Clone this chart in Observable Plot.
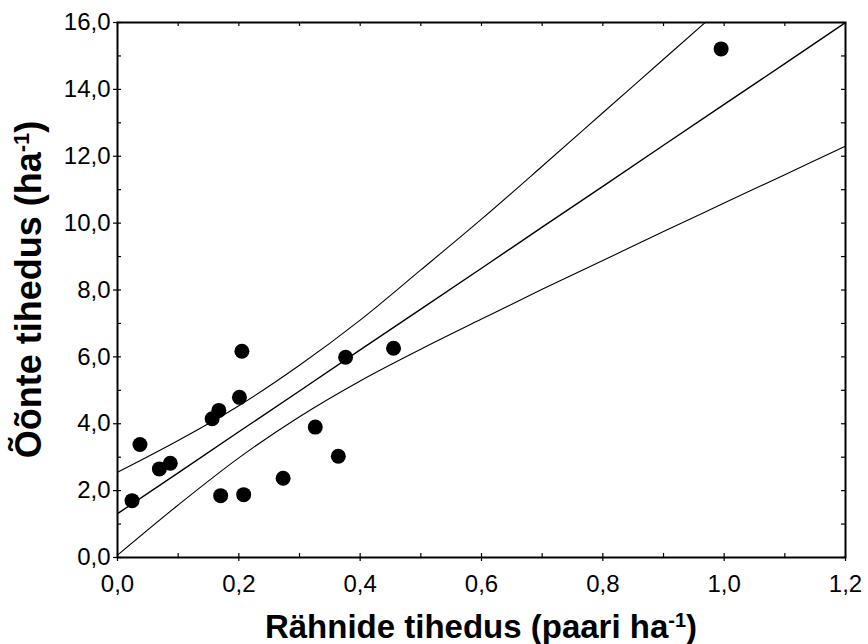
<!DOCTYPE html>
<html><head><meta charset="utf-8">
<script src="https://cdn.jsdelivr.net/npm/d3@7"></script>
<script src="https://cdn.jsdelivr.net/npm/@observablehq/plot@0.6"></script>
<style>body{margin:0;background:#fff}</style>
</head><body><div id="chart"></div>
<script>
// Observed points: woodpecker density (pairs/ha) vs. cavity density (per ha)
const pointX = [0.024, 0.037, 0.069, 0.087, 0.156, 0.167, 0.170, 0.201, 0.205, 0.208, 0.273, 0.326, 0.364, 0.376, 0.455, 0.995];
const pointY = [1.70, 3.38, 2.65, 2.82, 4.15, 4.40, 1.85, 4.79, 6.17, 1.88, 2.37, 3.90, 3.03, 5.99, 6.26, 15.21];

// Regression line and confidence band
const bandX  = [0, 0.1, 0.2, 0.3, 0.4, 0.5, 0.6, 0.7, 0.8, 0.9, 1.0, 1.1, 1.2];
const fitY   = [1.31, 2.53, 3.76, 4.98, 6.21, 7.43, 8.65, 9.88, 11.10, 12.33, 13.55, 14.77, 16.00];
const upperY = [2.55, 3.50, 4.54, 5.75, 7.10, 8.60, 10.12, 11.70, 13.30, 14.90, 16.50, 18.10, 19.70];
const lowerY = [0.07, 1.57, 2.98, 4.21, 5.28, 6.23, 7.13, 8.02, 8.88, 9.75, 10.60, 11.45, 12.30];

// Axes
const xTickLabels = [0, 0.2, 0.4, 0.6, 0.8, 1.0, 1.2];
const yTickLabels = [0, 2, 4, 6, 8, 10, 12, 14, 16];
const xMinorTicks = [0, 0.1, 0.2, 0.3, 0.4, 0.5, 0.6, 0.7, 0.8, 0.9, 1.0, 1.1, 1.2];
const yMinorTicks = [0, 1, 2, 3, 4, 5, 6, 7, 8, 9, 10, 11, 12, 13, 14, 15, 16];
const xTitle = ["Rähnide tihedus (paari ha", "-1", ")"];
const yTitle = ["Õõnte tihedus (ha", "-1", ")"];

const W = 868, H = 644;
const mL = 117, mR = 23, mT = 22, mB = 87;
const innerW = W - mL - mR, innerH = H - mT - mB;
const fmt = d => d.toFixed(1).replace(".", ",");

const points = pointX.map((x, i) => ({x, y: pointY[i]}));
const band = bandX.map((x, i) => ({x, fit: fitY[i], up: upperY[i], lo: lowerY[i]}));

const chart = Plot.plot({
  width: W, height: H,
  marginLeft: mL, marginRight: mR, marginTop: mT, marginBottom: mB,
  style: {fontFamily: "'Liberation Sans', Arial, sans-serif", fontSize: "24px", background: "#fff", color: "#000"},
  x: {domain: [0, 1.2], label: null},
  y: {domain: [0, 16], label: null},
  marks: [
    Plot.line(band, {x: "x", y: "up", stroke: "#000", strokeWidth: 1.1, curve: "catmull-rom", clip: true}),
    Plot.line(band, {x: "x", y: "lo", stroke: "#000", strokeWidth: 1.1, curve: "catmull-rom", clip: true}),
    Plot.line(band, {x: "x", y: "fit", stroke: "#000", strokeWidth: 1.4, clip: true}),
    Plot.dot(points, {x: "x", y: "y", r: 7.5, fill: "#000", stroke: "none"}),
    Plot.frame({stroke: "#000", strokeWidth: 2}),
    // inward minor ticks on all sides
    Plot.tickX(xMinorTicks, {x: d => d, insetTop: innerH - 4, stroke: "#000", strokeWidth: 1.2}),
    Plot.tickX(xMinorTicks, {x: d => d, insetBottom: innerH - 4, stroke: "#000", strokeWidth: 1.2}),
    Plot.tickY(yMinorTicks, {y: d => d, insetRight: innerW - 4, stroke: "#000", strokeWidth: 1.2}),
    Plot.tickY(yMinorTicks, {y: d => d, insetLeft: innerW - 4, stroke: "#000", strokeWidth: 1.2}),
    Plot.axisX(xTickLabels, {tickSize: 4, tickPadding: 13, tickFormat: fmt, fontSize: 24, strokeWidth: 1.2}),
    Plot.axisY(yTickLabels, {tickSize: 4, tickPadding: 3, tickFormat: fmt, fontSize: 24, strokeWidth: 1.2})
  ]
});
document.getElementById("chart").appendChild(chart);

const svg = d3.select(chart);
const ff = "'Liberation Sans', Arial, sans-serif";
function addTitle(parts, size, attrs) {
  const t = svg.append("text")
    .attr("font-family", ff).attr("font-weight", "bold").attr("font-size", size)
    .attr("fill", "#000").attr("text-anchor", "middle");
  for (const [k, v] of Object.entries(attrs)) t.attr(k, v);
  t.append("tspan").text(parts[0]);
  t.append("tspan").text(parts[1]).attr("font-size", Math.round(size * 0.62)).attr("baseline-shift", "super");
  t.append("tspan").text(parts[2]);
}
addTitle(xTitle, 33, {x: mL + innerW / 2, y: 638});
addTitle(yTitle, 36, {transform: `translate(41,${mT + innerH / 2}) rotate(-90)`});
</script>
</body></html>
